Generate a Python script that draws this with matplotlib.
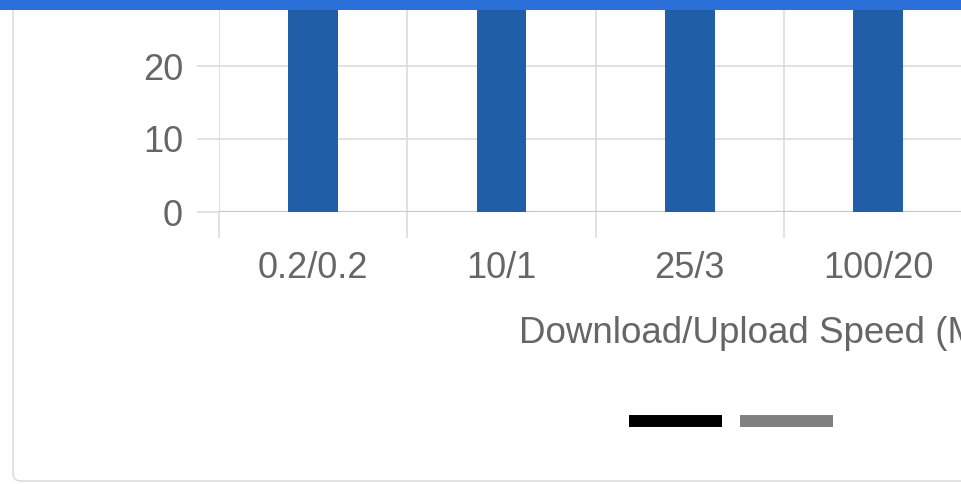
import matplotlib
matplotlib.use('Agg')
import matplotlib.pyplot as plt
from matplotlib.lines import Line2D
from matplotlib.patches import FancyBboxPatch, Rectangle
from matplotlib.transforms import IdentityTransform

# data (bars run past the top of the cropped view)
speeds = ["0.2/0.2", "10/1", "25/3", "100/20"]
counts = [35, 35, 35, 35]
n_slots = 6  # axis continues off the right edge of the crop

plt.rcParams['font.family'] = ['Liberation Sans', 'DejaVu Sans']

W, H = 961, 484
fig = plt.figure(figsize=(W / 100, H / 100), dpi=100)
fig.patch.set_facecolor('white')

# card outline
card = FancyBboxPatch((13, 3), 1200, 700, boxstyle="round,pad=0,rounding_size=8",
                      transform=IdentityTransform(), facecolor='white',
                      edgecolor='#dddddd', linewidth=1.2, zorder=-5)
fig.patches.append(card)

# plot area: left edge at x=219, zero line at y=212, slot width ~188 px
slot = 188.3
ax = fig.add_axes([219 / W, (H - 212) / H, n_slots * slot / W, 212 / H])
ax.set_facecolor('none')
ax.bar(range(len(speeds)), counts, width=0.265, color='#215ea8', zorder=3)

ax.set_xlim(-0.5, n_slots - 0.5)
ax.set_ylim(0, 212 / 7.3)
ax.set_yticks([0, 10, 20])
ax.set_xticks(range(len(speeds)))
ax.set_xticklabels(speeds)
ax.set_xticks([i - 0.5 for i in range(n_slots + 1)], minor=True)

grid_c = '#dcdcdc'
ax.grid(True, axis='y', color=grid_c, linewidth=1.2, zorder=1)
ax.grid(True, axis='x', which='minor', color=grid_c, linewidth=1.2, zorder=1)
ax.axhline(0, color='#c8c8c8', linewidth=1.6, zorder=2)
for s in ax.spines.values():
    s.set_visible(False)

ax.tick_params(axis='y', length=16, width=1.2, color=grid_c, pad=10,
               labelsize=26, labelcolor='#666666')
ax.tick_params(axis='x', which='major', length=0, pad=28,
               labelsize=26, labelcolor='#666666')
ax.tick_params(axis='x', which='minor', length=19, width=1.2, color=grid_c)

ax.set_xlabel("Download/Upload Speed (Mbps)", fontsize=26.5, color='#666666',
              labelpad=22)

# legend keys (labels not shown in the crop)
handles = [Line2D([], [], color='black', lw=8.6, solid_capstyle='butt'),
           Line2D([], [], color='#808080', lw=8.6, solid_capstyle='butt')]
fig.legend(handles, ['', ''], ncol=2, loc='center',
           bbox_to_anchor=(731 / W, 1 - 422 / H), frameon=False, fontsize=10,
           handlelength=6.7, handletextpad=0, columnspacing=1.3,
           borderpad=0)

# blue header strip across the top
fig.patches.append(Rectangle((0, 1 - 10 / H), 1, 10 / H, transform=fig.transFigure,
                             facecolor='#2a70d8', edgecolor='none', zorder=10))

fig.savefig('out.png', dpi=100)
